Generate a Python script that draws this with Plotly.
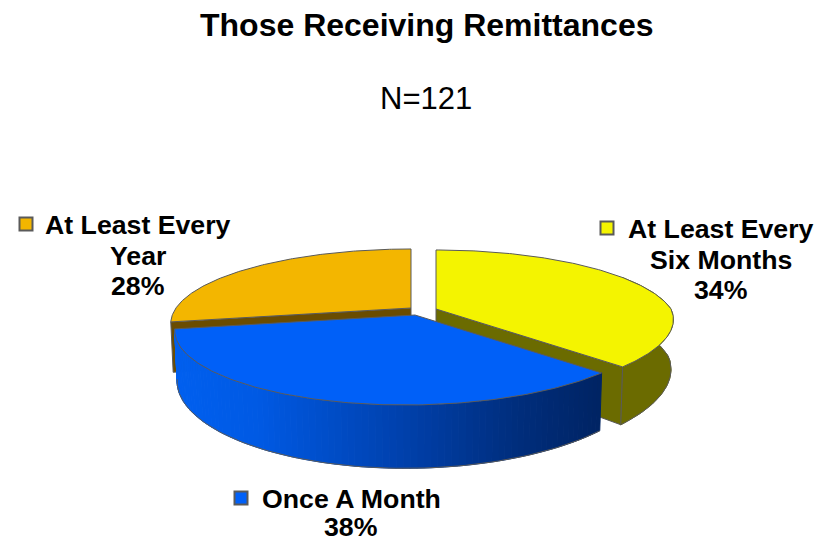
import numpy as np
import plotly.graph_objects as go

# ---- data ----
categories = ["At Least Every Six Months", "Once A Month", "At Least Every Year"]
percent_values = [34, 38, 28]
label_lines = [["At Least Every", "Six Months", "34%"],
               ["Once A Month", "38%"],
               ["At Least Every", "Year", "28%"]]
title_text = "Those Receiving Remittances"
subtitle_text = "N=121"

# ---- styles ----
W, H = 830, 542
FONT = "Liberation Sans, Arial, sans-serif"
TOP = ["#F4F400", "#0060F8", "#F3B600"]
WALL = ["#6B6B00", "#0050D0", "#6A4C00"]
EDGE = "#5A5A5A"
APEX = [(436, 309), (415, 315), (411, 308)]      # exploded slice centres
A, B, P = 235.0, 71.3, 0.208                      # perspective of the disc
H0, K, XS = 48.0, 1.17, 0.99                      # depth of the lower disc
SHEAR = 0.22                                      # front of the disc leans left


def warp(t):
    """The 3-D renderer's drawn sweep differs a little from the true sweep."""
    return t + np.radians(5.49) * np.sin(t) + np.radians(4.54) * (1 - np.cos(t))


def top_xy(t):
    w = 1 + P * np.cos(t)
    dx, dy = A * np.sin(t) / w, -B * np.cos(t) / w
    return dx - SHEAR * np.maximum(dy, 0) * (0.5 + 0.5 * np.sin(t)), dy


def bot_xy(t):
    dx, dy = top_xy(t)
    return XS * dx, H0 + K * dy


fig = go.Figure()


def poly(xs, ys, fill, line=None, lw=1):
    fig.add_trace(go.Scatter(x=xs, y=ys, mode="lines", fill="toself", fillcolor=fill,
                             line=dict(color=line or fill, width=lw),
                             hoverinfo="skip", showlegend=False))


def path(xs, ys, color=EDGE, lw=1):
    fig.add_trace(go.Scatter(x=xs, y=ys, mode="lines", line=dict(color=color, width=lw),
                             hoverinfo="skip", showlegend=False))


edges = np.cumsum([0] + percent_values) / sum(percent_values) * 2 * np.pi
starts, ends = warp(edges[:-1]), warp(edges[1:])


def arc(i, n=160):
    return np.linspace(starts[i], ends[i], n)


def radial_wall(i, t):
    cx, cy = APEX[i]
    dx, dy = top_xy(t)
    bx, by = bot_xy(t)
    poly([cx, cx + dx, cx + bx, cx, cx], [cy, cy + dy, cy + by, cy + H0, cy], WALL[i], EDGE)


def top_face(i):
    cx, cy = APEX[i]
    dx, dy = top_xy(arc(i))
    poly(np.r_[cx, cx + dx, cx], np.r_[cy, cy + dy, cy], TOP[i], EDGE)


def blue_shade(x):
    stops_x = [175, 260, 400, 520, 603]
    r = [0, 0, 0, 0, 0]
    g = [96, 90, 66, 46, 36]
    b = [240, 228, 175, 125, 100]
    return "rgb(%d,%d,%d)" % (np.interp(x, stops_x, r), np.interp(x, stops_x, g), np.interp(x, stops_x, b))


# orange slice (back left)
radial_wall(2, starts[2])
top_face(2)

# yellow slice (back right)
radial_wall(0, ends[0])
cx, cy = APEX[0]
t = arc(0)
t = t[t > np.pi / 3]
dx, dy = top_xy(t)
bx, by = bot_xy(t)
poly(np.r_[cx + dx, (cx + bx)[::-1]], np.r_[cy + dy, (cy + by)[::-1]], WALL[0], None)
path(cx + bx, cy + by)
path([cx + dx[-1], cx + bx[-1]], [cy + dy[-1], cy + by[-1]])
top_face(0)

# blue slice (front), wall shaded in narrow strips
cx, cy = APEX[1]
t = arc(1, 90)
dx, dy = top_xy(t)
bx, by = bot_xy(t)
for j in range(len(t) - 1):
    xs = [cx + dx[j], cx + dx[j + 1], cx + bx[j + 1], cx + bx[j], cx + dx[j]]
    ys = [cy + dy[j], cy + dy[j + 1], cy + by[j + 1], cy + by[j], cy + dy[j]]
    poly(xs, ys, blue_shade(cx + dx[j]))
path(cx + bx, cy + by)
top_face(1)

# legend keys
key_x = [607, 241, 26]
key_y = [228, 498, 224]
fig.add_trace(go.Scatter(x=key_x, y=key_y, mode="markers", hoverinfo="skip", showlegend=False,
                         marker=dict(symbol="square", size=13, color=TOP, line=dict(color=EDGE, width=2))))

# labels
label_x = [721, 351, 138]
label_y = [229, 499, 225]
line_gap = [30.5, 27.5, 30.5]
ann = []
for i in range(3):
    for k, s in enumerate(label_lines[i]):
        ann.append(dict(x=label_x[i], y=label_y[i] + k * line_gap[i], text="<b>%s</b>" % s, showarrow=False,
                        xref="x", yref="y", xanchor="center", yanchor="middle",
                        font=dict(family=FONT, size=26.7, color="black")))
ann.append(dict(x=426, y=25, text="<b>%s</b>" % title_text, showarrow=False, xref="x", yref="y",
                font=dict(family=FONT, size=32, color="black")))
ann.append(dict(x=426, y=98, text=subtitle_text, showarrow=False, xref="x", yref="y",
                font=dict(family=FONT, size=31, color="black")))

fig.update_layout(width=W, height=H, margin=dict(l=0, r=0, t=0, b=0), autosize=False,
                  paper_bgcolor="white", plot_bgcolor="white", showlegend=False, annotations=ann,
                  xaxis=dict(range=[0, W], visible=False, fixedrange=True),
                  yaxis=dict(range=[H, 0], visible=False, fixedrange=True))
fig.write_html("out.html", config={"displayModeBar": False},
               post_script="document.body.style.margin='0';document.documentElement.style.overflow='hidden';")
